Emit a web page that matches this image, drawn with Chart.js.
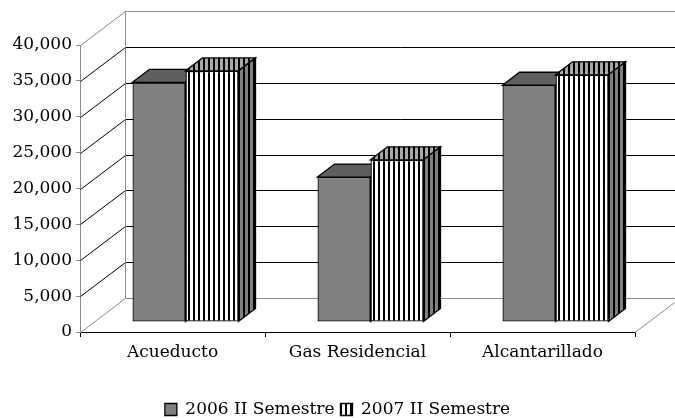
<!DOCTYPE html>
<html><head><meta charset="utf-8">
<script src="https://cdn.jsdelivr.net/npm/chart.js@4"></script>
<style>html,body{margin:0;padding:0;background:#fff;overflow:hidden}</style>
</head><body>
<canvas id="c" width="675" height="418"></canvas>
<script>
const categories = ['Acueducto', 'Gas Residencial', 'Alcantarillado'];
const seriesNames = ['2006 II Semestre', '2007 II Semestre'];
const values2006 = [33400, 20200, 33000];
const values2007 = [35000, 22600, 34450];
const yMin = 0, yMax = 40000, yStep = 5000;

const FONT = { family: '"DejaVu Serif", "Liberation Serif", serif', size: 17 };
const WALL = { dx: 45, dy: -34 };
const BAR_OFF = { dx: 13, dy: -10 };
const BAR_D = { dx: 17, dy: -13 };

function stripes(a, b, w1, w2) {
  const c = document.createElement('canvas');
  c.width = w1 + w2; c.height = 4;
  const g = c.getContext('2d');
  g.fillStyle = b; g.fillRect(0, 0, c.width, 4);
  g.fillStyle = a; g.fillRect(0, 0, w1, 4);
  return g.createPattern(c, 'repeat');
}
const ctx0 = document.getElementById('c').getContext('2d');
const frontStripe = stripes('#000', '#fff', 2, 3);
const topStripe = stripes('#000', '#a8a8a8', 2, 3);
const sideStripe = stripes('#000', '#808080', 2, 3);
const topFill = ['#5f5f5f', topStripe];
const sideFill = ['#6a6a6a', sideStripe];

const threeD = {
  id: 'threeD',
  beforeDraw(chart) {
    const c = chart.ctx;
    c.save(); c.fillStyle = '#fff'; c.fillRect(0, 0, chart.width, chart.height); c.restore();
  },
  beforeDatasetsDraw(chart) {
    const { ctx, chartArea: a, scales: { y } } = chart;
    ctx.save();
    ctx.lineWidth = 1;
    for (let v = yMin; v <= yMax; v += yStep) {
      const py = Math.round(y.getPixelForValue(v)) + 0.5;
      const edge = (v === yMin || v === yMax);
      ctx.strokeStyle = edge ? '#8c8c8c' : '#000';
      ctx.beginPath();
      ctx.moveTo(a.left + 0.5, py);
      ctx.lineTo(a.left + 0.5 + WALL.dx, py + WALL.dy);
      ctx.lineTo(a.right + WALL.dx + 10, py + WALL.dy);
      ctx.stroke();
    }
    ctx.strokeStyle = '#8c8c8c';
    ctx.beginPath();
    const bx = a.left + 0.5 + WALL.dx;
    ctx.moveTo(bx, Math.round(y.getPixelForValue(yMax)) + 0.5 + WALL.dy);
    ctx.lineTo(bx, Math.round(y.getPixelForValue(yMin)) + 0.5 + WALL.dy);
    ctx.moveTo(a.right, Math.round(a.bottom) + 0.5);
    ctx.lineTo(a.right + WALL.dx, Math.round(a.bottom) + 0.5 + WALL.dy);
    ctx.stroke();
    ctx.restore();

    ctx.save();
    ctx.translate(BAR_OFF.dx, BAR_OFF.dy);
    ctx.lineWidth = 1.3;
    ctx.strokeStyle = '#000';
    ctx.lineJoin = 'miter';
    chart.data.datasets.forEach((ds, i) => {
      const meta = chart.getDatasetMeta(i);
      meta.data.forEach(bar => {
        const { x, y: top, base, width } = bar.getProps(['x', 'y', 'base', 'width'], true);
        const l = x - width / 2, r = x + width / 2;
        ctx.fillStyle = topFill[i];
        ctx.beginPath();
        ctx.moveTo(l, top);
        ctx.lineTo(l + BAR_D.dx, top + BAR_D.dy);
        ctx.lineTo(r + BAR_D.dx, top + BAR_D.dy);
        ctx.lineTo(r, top);
        ctx.closePath();
        ctx.fill(); ctx.stroke();
        ctx.fillStyle = sideFill[i];
        ctx.beginPath();
        ctx.moveTo(r, top);
        ctx.lineTo(r + BAR_D.dx, top + BAR_D.dy);
        ctx.lineTo(r + BAR_D.dx, base + BAR_D.dy);
        ctx.lineTo(r, base);
        ctx.closePath();
        ctx.fill(); ctx.stroke();
      });
    });
  },
  afterDatasetsDraw(chart) {
    chart.ctx.restore();
  }
};

new Chart(ctx0, {
  type: 'bar',
  data: {
    labels: categories,
    datasets: [
      { label: seriesNames[0], data: values2006, backgroundColor: '#808080', borderColor: '#000', borderWidth: 1.3, borderSkipped: false, clip: false },
      { label: seriesNames[1], data: values2007, backgroundColor: frontStripe, borderColor: '#000', borderWidth: 1.3, borderSkipped: false, clip: false }
    ]
  },
  options: {
    responsive: false,
    animation: false,
    devicePixelRatio: 1,
    categoryPercentage: 0.573,
    barPercentage: 1,
    layout: { padding: { top: 45, right: 0, left: 0, bottom: -10 } },
    plugins: {
      legend: {
        position: 'bottom',
        labels: { boxWidth: 12, boxHeight: 12, padding: 6, color: '#000', font: FONT }
      },
      tooltip: { enabled: false }
    },
    scales: {
      x: {
        offset: true,
        grid: { offset: true, drawOnChartArea: false, tickLength: 5, color: '#000' },
        border: { color: '#000' },
        ticks: { color: '#000', font: FONT, padding: 5 },
        afterFit(s) { s.height = 63; }
      },
      y: {
        min: yMin, max: yMax,
        grid: { drawOnChartArea: false, tickLength: 4, color: '#8c8c8c' },
        border: { color: '#8c8c8c' },
        ticks: { stepSize: yStep, color: '#000', font: FONT, padding: 4 },
        afterFit(s) { s.width = 80; }
      },
      depthSpace: {
        type: 'linear', position: 'right', min: 0, max: 1,
        grid: { display: false }, border: { display: false }, ticks: { display: false },
        afterFit(s) { s.width = 40; }
      }
    }
  },
  plugins: [threeD]
});
</script>
</body></html>
